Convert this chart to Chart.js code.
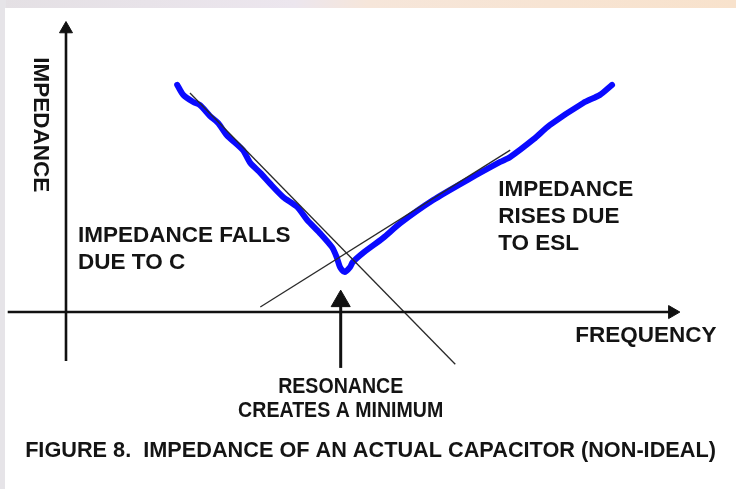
<!DOCTYPE html>
<html>
<head>
<meta charset="utf-8">
<script src="https://cdn.jsdelivr.net/npm/chart.js@4/dist/chart.umd.min.js"></script>
<style>
  html, body { margin: 0; padding: 0; background: #fff; }
  #wrap { width: 736px; height: 489px; }
</style>
</head>
<body>
<div id="wrap"><canvas id="chart" width="736" height="489"></canvas></div>
<script>
// measured impedance curve (hand drawn, blue)
const curveFreq = [16.6, 17.5, 19.0, 20.0, 21.5, 22.7, 24.0, 26.4, 27.5, 29.0, 30.4, 32.4, 34.5, 36.0, 37.9, 39.7, 40.4, 40.9, 41.6, 42.4, 42.8, 44.3, 47.3, 49.9, 54.8, 59.9, 64.8, 66.3, 69.8, 72.2, 77.2, 79.7, 81.5]
const curveImpedance = [72.8, 69.6, 67.3, 66.3, 62.8, 60.6, 56.7, 51.9, 47.8, 44.6, 41.3, 36.9, 33.7, 29.5, 25.3, 20.8, 17.6, 14.4, 12.8, 14.4, 16.0, 18.9, 23.7, 28.5, 35.9, 42.3, 48.1, 49.7, 55.4, 59.9, 67.0, 69.6, 72.8]

// ideal asymptotes
const capFreq = [18.5, 58.1]
const capImpedance = [70.2, -16.7]
const eslFreq = [29.0, 66.3]
const eslImpedance = [1.6, 51.9]

// axes + resonance pointer
const freqAxisFreq = [-8.7, 90.5]
const impAxisImp = [-15.7, 90.7]
const resonanceFreq = 41.0
const resonancePointer = [-17.9, 3.5]

const toPoints = (xs, ys) => xs.map((x, i) => ({ x, y: ys[i] }))

const FONT = '"Liberation Sans", Arial, sans-serif'
const notes = [
  { lines: ['IMPEDANCE FALLS', 'DUE TO C'], x: 1.8, y: 24.4, align: 'left', size: 22.5, gap: 27, squeeze: 1 },
  { lines: ['IMPEDANCE', 'RISES DUE', 'TO ESL'], x: 64.5, y: 39.1, align: 'left', size: 22.5, gap: 27, squeeze: 1 },
  { lines: ['FREQUENCY'], x: 76.0, y: -7.7, align: 'left', size: 22.5, gap: 27, squeeze: 1 },
  { lines: ['RESONANCE', 'CREATES A MINIMUM'], x: 41.0, y: -24.0, align: 'center', size: 22.5, gap: 24, squeeze: 0.87 },
  { lines: ['FIGURE 8.  IMPEDANCE OF AN ACTUAL CAPACITOR (NON-IDEAL)'], x: -6.1, y: -44.6, align: 'left', size: 21.7, gap: 27, squeeze: 1 }
]

const paperPlugin = {
  id: 'paper',
  beforeDraw: (chart) => {
    const { ctx, width, height } = chart
    ctx.save()
    const g = ctx.createLinearGradient(0, 0, width, 0)
    g.addColorStop(0, '#e4e0e4')
    g.addColorStop(0.4, '#ece6ee')
    g.addColorStop(0.5, '#f6e6da')
    g.addColorStop(1, '#f8e2cc')
    ctx.fillStyle = g
    ctx.fillRect(0, 0, width, height)
    ctx.fillStyle = '#e6e4e8'
    ctx.fillRect(0, 0, 6, height)
    ctx.fillStyle = '#ffffff'
    ctx.fillRect(5, 8, width - 5, height - 8)
    ctx.restore()
  }
}

const notesPlugin = {
  id: 'notes',
  afterDatasetsDraw: (chart) => {
    const { ctx, scales } = chart
    ctx.save()
    ctx.fillStyle = '#141414'
    ctx.textBaseline = 'middle'
    notes.forEach((note) => {
      ctx.save()
      ctx.font = `bold ${note.size}px ${FONT}`
      ctx.textAlign = note.align
      const px = scales.x.getPixelForValue(note.x)
      const py = scales.y.getPixelForValue(note.y)
      ctx.translate(px, py)
      ctx.scale(note.squeeze, 1)
      note.lines.forEach((line, i) => ctx.fillText(line, 0, i * note.gap))
      ctx.restore()
    })
    // vertical axis title
    ctx.font = `bold 22.5px ${FONT}`
    ctx.textAlign = 'center'
    ctx.translate(scales.x.getPixelForValue(-3.9), scales.y.getPixelForValue(60.0))
    ctx.rotate(Math.PI / 2)
    ctx.fillText('IMPEDANCE', 0, 0)
    ctx.restore()
  }
}

const arrow = (data, rotation, radius, width) => ({
  data,
  showLine: true,
  borderColor: '#111',
  backgroundColor: '#111',
  borderWidth: width,
  pointStyle: 'triangle',
  pointRadius: [0, radius],
  pointRotation: [0, rotation],
  pointBorderWidth: 1,
  order: 0
})

new Chart(document.getElementById('chart'), {
  type: 'scatter',
  data: {
    datasets: [
      arrow(toPoints(freqAxisFreq, [0, 0]), 90, 7.5, 2.6),
      arrow(toPoints([0, 0], impAxisImp), 0, 7.5, 2.6),
      arrow(toPoints([resonanceFreq, resonanceFreq], resonancePointer), 0, 11, 3),
      {
        data: toPoints(capFreq, capImpedance),
        showLine: true,
        borderColor: '#2a2a2a',
        borderWidth: 1.3,
        pointRadius: 0,
        order: 1
      },
      {
        data: toPoints(eslFreq, eslImpedance),
        showLine: true,
        borderColor: '#2a2a2a',
        borderWidth: 1.3,
        pointRadius: 0,
        order: 1
      },
      {
        data: toPoints(curveFreq, curveImpedance),
        showLine: true,
        borderColor: '#0a0aff',
        borderWidth: 6,
        borderCapStyle: 'round',
        borderJoinStyle: 'round',
        tension: 0.25,
        pointRadius: 0,
        order: 2
      }
    ]
  },
  options: {
    responsive: false,
    animation: false,
    events: [],
    layout: { padding: 0, autoPadding: false },
    plugins: { legend: { display: false }, tooltip: { enabled: false } },
    scales: {
      x: { type: 'linear', display: false, min: -9.85, max: 100 },
      y: { type: 'linear', display: false, min: -56.7, max: 100 }
    }
  },
  plugins: [paperPlugin, notesPlugin]
})
</script>
</body>
</html>
